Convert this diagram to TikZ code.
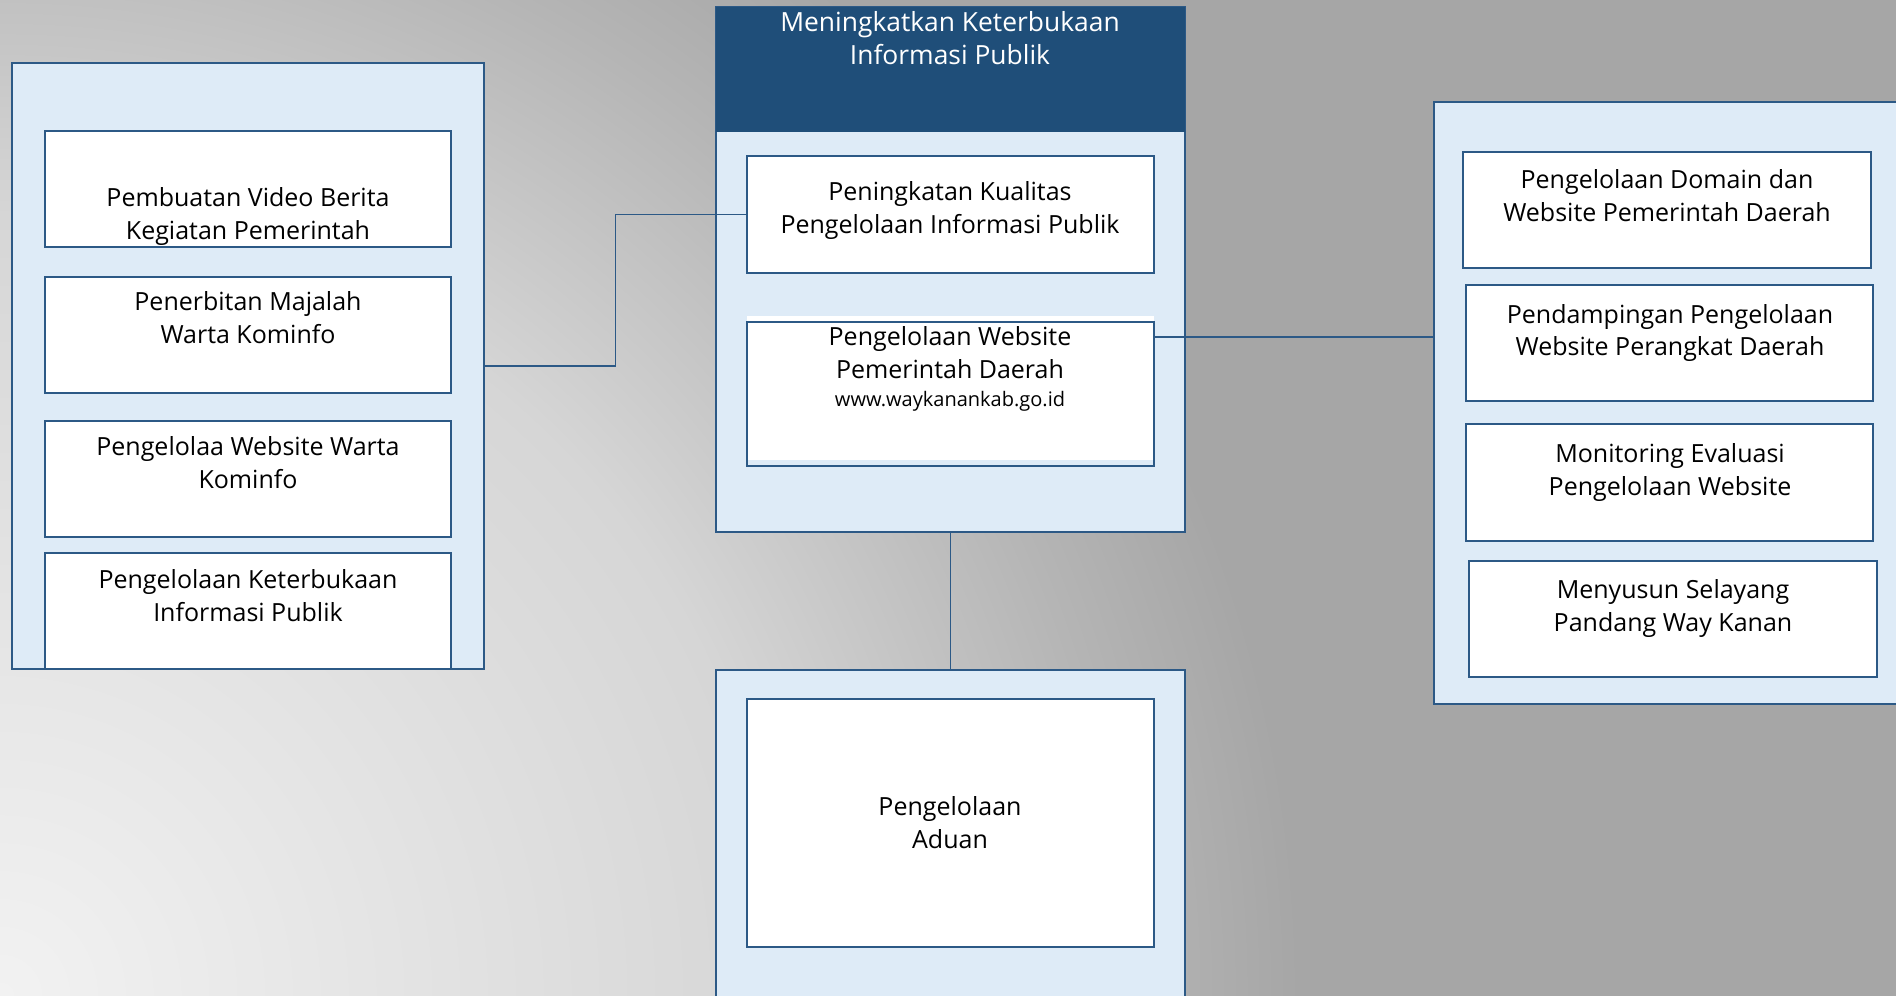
\documentclass[tikz,border=0pt]{standalone}
\usepackage{fontspec}
\setmainfont{Open Sans}
\usetikzlibrary{fit,calc}
\definecolor{bgdark}{HTML}{A6A6A6}
\definecolor{bgmid}{HTML}{B5B5B5}
\definecolor{bgsoft}{HTML}{D6D6D6}
\definecolor{bglight}{HTML}{F2F2F2}
\definecolor{garis}{HTML}{2C5986}
\definecolor{kepala}{HTML}{1F4E79}
\definecolor{muda}{HTML}{DEEBF7}
\pgfdeclareradialshading{latar}{\pgfpoint{0bp}{0bp}}{color(0bp)=(bglight); color(15bp)=(bgsoft); color(21.6bp)=(bgmid); color(25bp)=(bgdark); color(50bp)=(bgdark)}
\begin{document}
\begin{tikzpicture}[x=0.5pt, y=-0.5pt,
    panel/.style={draw=garis, line width=1.3pt, fill=muda, inner sep=0pt},
    kotak/.style={draw=garis, line width=1pt, fill=white, inner sep=0pt},
    teks/.style={align=center, inner sep=0pt, font=\fontsize{12.5}{16.5}\selectfont},
    hubung/.style={draw=garis, line width=0.6pt}]
    \clip (0,0) rectangle (1896,996);
    \fill[bgdark] (0,0) rectangle (1896,996);
    \shade[shading=latar] (0,996) circle (1300);

    \node[panel, fit={(12,63) (484,669)}] (kiri) {};
    \node[kotak, fit={(45,131) (451,247)}] (video) {};
    \node[kotak, fit={(45,277) (451,393)}] (majalah) {};
    \node[kotak, fit={(45,421) (451,537)}] (webwarta) {};
    \node[kotak, fit={(45,553) (451,669)}] (kip) {};
    \node[teks] (videot) at (248,217) {Pembuatan Video Berita\\Kegiatan Pemerintah};
    \node[teks] (majalaht) at (248,318) {Penerbitan Majalah\\Warta Kominfo};
    \node[teks] (webwartat) at (248,463) {Pengelolaa Website Warta\\Kominfo};
    \node[teks] (kipt) at (248,596) {Pengelolaan Keterbukaan\\Informasi Publik};

    \node[panel, fit={(716,7) (1185,532)}] (tengah) {};
    \fill[kepala] (716,7) rectangle (1185,132);
    \node[teks, text=white, font=\fontsize{13.2}{16.5}\selectfont] (judul) at (950,38) {Meningkatkan Keterbukaan\\Informasi Publik};
    \node[kotak, fit={(747,156) (1154,273)}] (kualitas) {};
    \node[teks] (kualitast) at (950,211) {Peningkatan Kualitas\\Pengelolaan Informasi Publik};
    \fill[white] (747,316) rectangle (1154,460);
    \node[kotak, fill=none, fit={(747,322) (1154,466)}] (web) {};
    \node[teks, anchor=north] (webt) at (950,326) {Pengelolaan Website\\Pemerintah Daerah\\[-2.5pt]{\fontsize{10}{12}\selectfont www.waykanankab.go.id}};

    \node[panel, fit={(716,670) (1185,1010)}] (bawah) {};
    \node[kotak, fit={(747,699) (1154,947)}] (aduan) {};
    \node[teks] (aduant) at (950,823) {Pengelolaan\\Aduan};

    \node[panel, fit={(1434,102) (1910,704)}] (kanan) {};
    \node[kotak, fit={(1463,152) (1871,268)}] (domain) {};
    \node[kotak, fit={(1466,285) (1873,401)}] (pendamping) {};
    \node[kotak, fit={(1466,424) (1873,541)}] (monev) {};
    \node[kotak, fit={(1469,561) (1877,677)}] (selayang) {};
    \node[teks] (domaint) at (1667,196) {Pengelolaan Domain dan\\Website Pemerintah Daerah};
    \node[teks] (pendampingt) at (1670,333) {Pendampingan Pengelolaan\\Website Perangkat Daerah};
    \node[teks] (monevt) at (1670,472) {Monitoring Evaluasi\\Pengelolaan Website};
    \node[teks] (selayangt) at (1673,608) {Menyusun Selayang\\Pandang Way Kanan};

    \coordinate (tekuk) at ($(kiri.east)!.5!(kualitas.west)$);
    \coordinate (sambung) at (1300,337);
    \draw[hubung] (kiri.east) -| (tekuk) |- (kualitas.west);
    \draw[hubung] (web.east |- sambung) -- (kanan.west |- sambung);
    \draw[hubung] (tengah.south) -- (bawah.north);
\end{tikzpicture}
\end{document}
